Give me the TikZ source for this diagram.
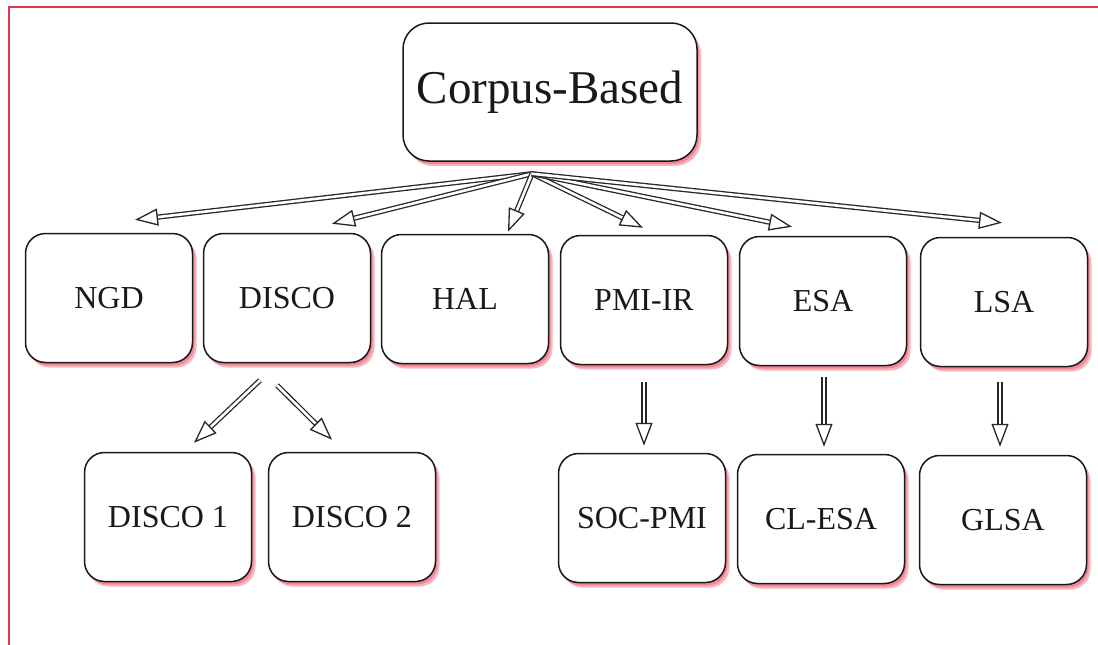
\documentclass[tikz,border=0pt]{standalone}
\usepackage{fontspec}
\setmainfont{Liberation Serif}
\usetikzlibrary{arrows.meta,calc,shadows}

\definecolor{framered}{RGB}{232,52,78}
\definecolor{boxshadow}{RGB}{240,90,110}

\begin{document}
\begin{tikzpicture}[x=1pt,y=-1pt,
  method/.style={draw=black!90, line width=1.5pt, rounded corners=20pt, fill=white,
    minimum width=167pt, minimum height=129pt, inner sep=0pt,
    font=\rmfamily\fontsize{32}{38}\selectfont, text=black!90,
    drop shadow={shadow xshift=4pt, shadow yshift=-5pt, fill=boxshadow, opacity=0.45},
    drop shadow={shadow xshift=2pt, shadow yshift=-3pt, fill=boxshadow, opacity=0.5}},
  rootbox/.style={method, minimum width=294pt, minimum height=138pt, rounded corners=26pt,
    font=\rmfamily\fontsize{47}{54}\selectfont},
  link/.style={draw=black!85, line width=1.3pt, double=white, double distance=2.6pt,
    -{Triangle[open, length=23pt, width=17pt, fill=white]}}
]
\useasboundingbox (0,0) rectangle (1098,645);

% frame
\draw[framered, line width=2.5pt] (9,645) -- (9,7) -- (1098,7);

% nodes
\node[rootbox] (root) at (550,92) {Corpus-Based};

\node[method] (ngd)   at (109,298)  {NGD};
\node[method] (disco) at (287,298)  {DISCO};
\node[method] (hal)   at (465,299)  {HAL};
\node[method] (pmi)   at (644,300)  {PMI-IR};
\node[method] (esa)   at (823,301)  {ESA};
\node[method] (lsa)   at (1004,302) {LSA};

\node[method] (disco1) at (168,517)  {DISCO 1};
\node[method] (disco2) at (352,517)  {DISCO 2};
\node[method] (socpmi) at (642,518)  {SOC-PMI};
\node[method] (clesa)  at (821,519)  {CL-ESA};
\node[method] (glsa)   at (1003,520) {GLSA};

% fan of links from the root
\coordinate (hub) at ($(root.south)+(-18,12)$);
\draw[link] (hub) -- ($(ngd.north)+(26,-13)$);
\draw[link] (hub) -- ($(disco.north)+(45,-9)$);
\draw[link] (hub) -- ($(hal.north)+(43,-2)$);
\draw[link] (hub) -- ($(pmi.north)+(-1,-7)$);
\draw[link] (hub) -- ($(esa.north)+(-31,-9)$);
\draw[link] (hub) -- ($(lsa.north)+(-2,-14)$);

% second level
\draw[link] ($(disco.south)+(-27,17)$) -- ($(disco1.north)+(26,-9)$);
\draw[link] ($(disco.south)+(-10,22)$) -- ($(disco2.north)+(-20,-12)$);
\draw[link] ($(pmi.south)+(0,17)$) -- ($(socpmi.north)+(2,-7)$);
\draw[link] ($(esa.south)+(1,11)$) -- ($(clesa.north)+(3,-7)$);
\draw[link] ($(lsa.south)+(-4,15)$) -- ($(glsa.north)+(-3,-8)$);
\end{tikzpicture}
\end{document}
